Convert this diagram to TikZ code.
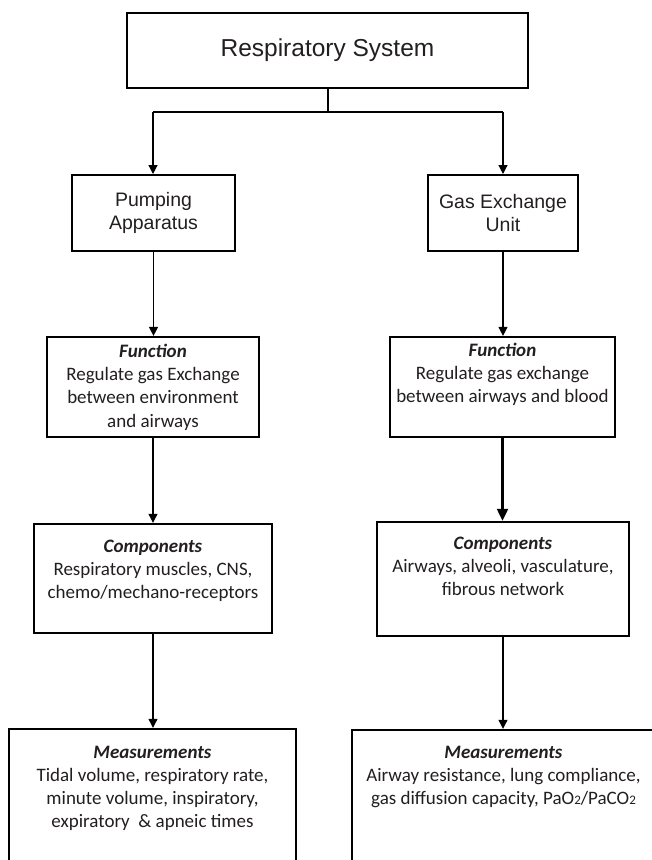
\documentclass[tikz,border=0pt]{standalone}
\usepackage{fontspec}
\setmainfont{Carlito}
\newfontfamily\arialf{Liberation Sans}
\usetikzlibrary{arrows.meta}
\definecolor{ink}{HTML}{231F20}
\newcommand\mycalfont{\fontsize{19}{23.3}\selectfont}
\newcommand\mysubsz{\fontsize{13}{13}\selectfont}
\tikzset{
  box/.style={draw=black, rectangle, inner sep=0pt},
  txt/.style={text=ink, align=center, inner sep=0pt, font=\mycalfont},
  toptxt/.style={text=ink, align=center, font=\arialf\fontsize{19.5}{23}\selectfont},
  conn/.style={draw=black, line width=1.2pt},
  arr/.style={conn, -{Triangle[width=9pt,length=9pt]}},
  thickarr/.style={draw=black, line width=2.2pt, -{Triangle[width=11pt,length=12pt]}},
}
\begin{document}
\begin{tikzpicture}[x=1pt,y=-1pt]
\useasboundingbox (0,0) rectangle (652,860);
\fill[white] (0,0) rectangle (652,860);
\clip (0,0) rectangle (652,860);

% boxes
\node[box, line width=2.6pt, minimum width=401pt, minimum height=75pt, text=ink,
      font=\arialf\fontsize{24.5}{29}\selectfont] (sys) at (327.5,50.5) {Respiratory System};
\node[box, toptxt, line width=2pt, minimum width=163pt, minimum height=76pt] (pump) at (153.5,213) {Pumping\\Apparatus};
\node[box, toptxt, line width=2pt, minimum width=150pt, minimum height=76pt] (gas) at (503,213) {Gas Exchange\\Unit};

\node[box, line width=2.2pt, minimum width=212pt, minimum height=100pt] (f1) at (153,387) {};
\node[box, line width=2.2pt, minimum width=225pt, minimum height=100pt] (f2) at (502.5,387) {};
\node[box, line width=2.4pt, minimum width=238pt, minimum height=109pt] (c1) at (153,578.5) {};
\node[box, line width=2.4pt, minimum width=252pt, minimum height=114pt] (c2) at (503,579) {};
\node[box, line width=2.4pt, minimum width=287pt, minimum height=151pt] (m1) at (152.5,804.5) {};
\node[box, line width=2.4pt, minimum width=303pt, minimum height=150pt] (m2) at (503.5,805) {};

% texts
\node[txt, anchor=north] (f1t) at ([yshift=-4.7pt]f1.north)
  {\strut\textbf{\textit{Function}}\\Regulate gas Exchange\\between environment\\and airways};
\node[txt, anchor=north] (f2t) at ([yshift=-3.8pt]f2.north)
  {\strut\textbf{\textit{Function}}\\Regulate gas exchange\\between airways and blood};
\node[txt, anchor=north] (c1t) at ([yshift=-12.7pt]c1.north)
  {\strut\textbf{\textit{Components}}\\Respiratory muscles, CNS,\\chemo/mechano-receptors};
\node[txt, anchor=north] (c2t) at ([yshift=-11.7pt]c2.north)
  {\strut\textbf{\textit{Components}}\\Airways, alveoli, vasculature,\\fibrous network};
\node[txt, anchor=north] (m1t) at ([yshift=-13.7pt]m1.north)
  {\strut\textbf{\textit{Measurements}}\\Tidal volume, respiratory rate,\\minute volume, inspiratory,\\expiratory~ \& apneic times};
\node[txt, anchor=north] (m2t) at ([yshift=-12.7pt]m2.north)
  {\strut\textbf{\textit{Measurements}}\\Airway resistance, lung compliance,\\gas diffusion capacity, PaO{\mysubsz 2}/PaCO{\mysubsz 2}};

% connectors
\coordinate (jl) at (153,112);
\coordinate (jr) at (503,112);
\draw[line width=2pt] (sys.south) -- (sys.south |- jl);
\draw[conn] (jl) -- (jr);
\draw[arr] (jl) -- (jl |- pump.north);
\draw[arr] (jr) -- (jr |- gas.north);
\draw[arr] (pump.south) -- (pump.south |- f1.north);
\draw[arr] (gas.south) -- (gas.south |- f2.north);
\draw[arr] (f1.south) -- (f1.south |- c1.north);
\draw[thickarr] (f2.south) -- (f2.south |- c2.north);
\draw[arr] (c1.south) -- (c1.south |- m1.north);
\draw[arr] (c2.south) -- (c2.south |- m2.north);
\end{tikzpicture}
\end{document}
